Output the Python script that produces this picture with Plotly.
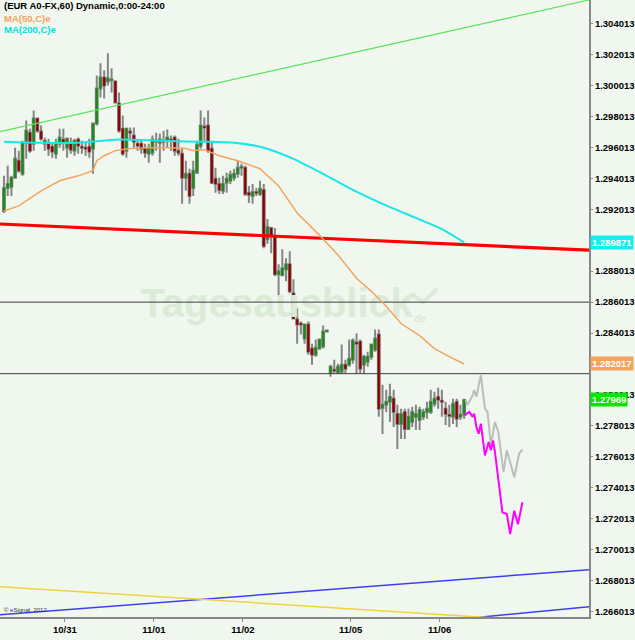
import plotly.graph_objects as go

# ---------------- data (EUR/USD hourly candles) ----------------
open_ = [1.29190, 1.29339, 1.29346, 1.29404, 1.29514, 1.29430, 1.29631, 1.29696, 1.29625, 1.29787,
         1.29703, 1.29625, 1.29625, 1.29605, 1.29560, 1.29625, 1.29651, 1.29599, 1.29625, 1.29579,
         1.29651, 1.29605, 1.29599, 1.29605, 1.29592, 1.29755, 1.29982, 1.30053, 1.30027, 1.30034,
         1.30027, 1.29885, 1.29722, 1.29579, 1.29703, 1.29677, 1.29625, 1.29625, 1.29592, 1.29560,
         1.29566, 1.29638, 1.29631, 1.29644, 1.29644, 1.29651, 1.29664, 1.29579, 1.29560, 1.29404,
         1.29430, 1.29339, 1.29437, 1.29612, 1.29735, 1.29742, 1.29592, 1.29398, 1.29365, 1.29320,
         1.29372, 1.29385, 1.29404, 1.29430, 1.29469, 1.29469, 1.29307, 1.29287, 1.29313, 1.29300,
         1.29326, 1.29008, 1.29080, 1.29028, 1.28781, 1.28775, 1.28814, 1.28846, 1.28658, 1.28489,
         1.28463, 1.28366, 1.28457, 1.28301, 1.28262, 1.28301, 1.28314, 1.28411, 1.28145, 1.28164,
         1.28145, 1.28151, 1.28197, 1.28197, 1.28229, 1.28340, 1.28346, 1.28197, 1.28216, 1.28249,
         1.28294, 1.28392, 1.27918, 1.27938, 1.27957, 1.27977, 1.27879, 1.27814, 1.27892, 1.27782,
         1.27827, 1.27860, 1.27840, 1.27860, 1.27892, 1.27892, 1.27944, 1.27989, 1.27964, 1.27912,
         1.27873, 1.27860, 1.27957, 1.27860, 1.27873]
high = [1.29417, 1.29482, 1.29417, 1.29599, 1.29579, 1.29644, 1.29774, 1.29722, 1.29839, 1.29794,
        1.29742, 1.29664, 1.29657, 1.29631, 1.29657, 1.29722, 1.29722, 1.29664, 1.29664, 1.29657,
        1.29664, 1.29644, 1.29631, 1.29657, 1.29761, 1.30066, 1.30144, 1.30099, 1.30209, 1.30112,
        1.30034, 1.29956, 1.29807, 1.29729, 1.29729, 1.29729, 1.29657, 1.29644, 1.29625, 1.29625,
        1.29677, 1.29696, 1.29690, 1.29709, 1.29716, 1.29677, 1.29677, 1.29657, 1.29599, 1.29514,
        1.29463, 1.29514, 1.29644, 1.29839, 1.29794, 1.29839, 1.29644, 1.29469, 1.29404, 1.29417,
        1.29437, 1.29450, 1.29463, 1.29514, 1.29495, 1.29482, 1.29352, 1.29365, 1.29339, 1.29385,
        1.29365, 1.29138, 1.29086, 1.29080, 1.28846, 1.28943, 1.28885, 1.28930, 1.28749, 1.28561,
        1.28476, 1.28463, 1.28476, 1.28333, 1.28359, 1.28366, 1.28450, 1.28424, 1.28197, 1.28229,
        1.28203, 1.28327, 1.28229, 1.28359, 1.28366, 1.28398, 1.28359, 1.28262, 1.28281, 1.28333,
        1.28424, 1.28424, 1.28067, 1.28035, 1.28074, 1.28035, 1.27938, 1.27912, 1.27912, 1.27912,
        1.27925, 1.27938, 1.27925, 1.27912, 1.27957, 1.28035, 1.28022, 1.28048, 1.28035, 1.27957,
        1.27938, 1.27977, 1.27977, 1.27938, 1.27977]
low = [1.29177, 1.29287, 1.29287, 1.29398, 1.29437, 1.29417, 1.29527, 1.29566, 1.29579, 1.29696,
       1.29644, 1.29579, 1.29547, 1.29534, 1.29527, 1.29599, 1.29579, 1.29534, 1.29560, 1.29547,
       1.29560, 1.29560, 1.29547, 1.29534, 1.29430, 1.29742, 1.29923, 1.29917, 1.30001, 1.29956,
       1.29885, 1.29696, 1.29547, 1.29534, 1.29644, 1.29599, 1.29579, 1.29560, 1.29534, 1.29501,
       1.29547, 1.29579, 1.29501, 1.29579, 1.29599, 1.29579, 1.29547, 1.29547, 1.29236, 1.29320,
       1.29236, 1.29287, 1.29430, 1.29592, 1.29644, 1.29566, 1.29365, 1.29307, 1.29300, 1.29300,
       1.29307, 1.29365, 1.29385, 1.29404, 1.29417, 1.29287, 1.29242, 1.29236, 1.29287, 1.29287,
       1.28950, 1.28976, 1.28917, 1.28768, 1.28638, 1.28768, 1.28736, 1.28658, 1.28489, 1.28333,
       1.28392, 1.28333, 1.28262, 1.28197, 1.28249, 1.28294, 1.28301, 1.28405, 1.28119, 1.28138,
       1.28138, 1.28138, 1.28138, 1.28184, 1.28203, 1.28138, 1.28138, 1.28138, 1.28184, 1.28229,
       1.28281, 1.27860, 1.27749, 1.27892, 1.27827, 1.27795, 1.27652, 1.27717, 1.27717, 1.27775,
       1.27795, 1.27775, 1.27775, 1.27840, 1.27847, 1.27879, 1.27925, 1.27912, 1.27860, 1.27808,
       1.27795, 1.27814, 1.27795, 1.27840, 1.27847]
close = [1.29339, 1.29365, 1.29404, 1.29527, 1.29450, 1.29631, 1.29709, 1.29579, 1.29787, 1.29709,
         1.29657, 1.29644, 1.29592, 1.29573, 1.29625, 1.29664, 1.29638, 1.29657, 1.29586, 1.29644,
         1.29612, 1.29599, 1.29592, 1.29573, 1.29755, 1.29982, 1.30053, 1.30001, 1.30047, 1.30040,
         1.29891, 1.29709, 1.29560, 1.29722, 1.29696, 1.29638, 1.29612, 1.29592, 1.29566, 1.29599,
         1.29651, 1.29644, 1.29651, 1.29638, 1.29664, 1.29644, 1.29579, 1.29566, 1.29404, 1.29430,
         1.29287, 1.29450, 1.29618, 1.29742, 1.29729, 1.29579, 1.29372, 1.29365, 1.29326, 1.29365,
         1.29398, 1.29424, 1.29430, 1.29469, 1.29476, 1.29300, 1.29294, 1.29313, 1.29307, 1.29333,
         1.28963, 1.29086, 1.29028, 1.28781, 1.28801, 1.28820, 1.28846, 1.28671, 1.28496, 1.28457,
         1.28457, 1.28457, 1.28281, 1.28262, 1.28307, 1.28359, 1.28411, 1.28418, 1.28184, 1.28158,
         1.28184, 1.28197, 1.28171, 1.28236, 1.28353, 1.28333, 1.28171, 1.28249, 1.28249, 1.28327,
         1.28366, 1.27912, 1.27938, 1.27957, 1.27989, 1.27892, 1.27814, 1.27879, 1.27782, 1.27860,
         1.27892, 1.27879, 1.27905, 1.27892, 1.27912, 1.27957, 1.27977, 1.27970, 1.27957, 1.27879,
         1.27866, 1.27944, 1.27847, 1.27873, 1.27969]
bar_index = list(range(len(close)))

day_labels = ["10/31", "11/01", "11/02", "11/05", "11/06"]
day_start_bar = [17, 41, 65, 94, 118]

ma50_bar = [0, 4, 10, 15, 20, 23, 24, 25, 27, 30, 34, 39, 45, 49, 51, 54, 58, 63, 69, 74,
            79, 85, 90, 95, 99, 103, 107, 112, 116, 120, 124]
ma50_val = [1.29190, 1.29223, 1.29320, 1.29385, 1.29417, 1.29443, 1.29450, 1.29515, 1.29547, 1.29580,
            1.29593, 1.29599, 1.29599, 1.29593, 1.29580, 1.29586, 1.29547, 1.29515, 1.29463, 1.29352,
            1.29177, 1.29034, 1.28905, 1.28755, 1.28671, 1.28574, 1.28463, 1.28385, 1.28301, 1.28249,
            1.282017]

ma200_bar = [0, 10, 20, 31, 42, 52, 62, 70, 78, 86, 94, 102, 111, 118, 124]
ma200_val = [1.29638, 1.29631, 1.29631, 1.29651, 1.29644, 1.29638, 1.29631, 1.29599, 1.29527, 1.29430,
             1.29326, 1.29236, 1.29145, 1.29073, 1.289871]

proj_gray_bar = [124.4, 124.9, 126.3, 126.7, 127.3, 128.5, 129.6, 130.3, 131.2, 132.3, 133.2, 134.6,
                 135.5, 137.5, 138.8, 139.7]
proj_gray_val = [1.27969, 1.27936, 1.28001, 1.28033, 1.27990, 1.28130, 1.27914, 1.27892, 1.27676,
                 1.27827, 1.27762, 1.27503, 1.27644, 1.27470, 1.27622, 1.27650]

proj_magenta_bar = [124.2, 125.4, 126.3, 126.7, 127.3, 127.9, 128.5, 129.6, 130.6, 131.2, 131.8, 132.3,
                    133.2, 134.3, 135.5, 136.4, 137.5, 138.5, 139.7]
proj_magenta_val = [1.27871, 1.27892, 1.27860, 1.27881, 1.27795, 1.27751, 1.27816, 1.27611, 1.27697,
                    1.27644, 1.27708, 1.27632, 1.27459, 1.27243, 1.27232, 1.27102, 1.27254, 1.27167,
                    1.27308]

# drawn trend lines (two anchor points each: bar, price)
green_trend = [(-1.07, 1.29703), (157.64, 1.30553)]
red_trend = [(-1.07, 1.29106), (157.64, 1.28937)]
blue_upper = [(-1.07, 1.26581), (157.64, 1.26873)]
blue_lower = [(120.9, 1.26549), (157.64, 1.26633)]
yellow_trend = [(-1.07, 1.26763), (139.9, 1.26549)]
levels = [1.286013, 1.28139]

# right-axis labels (1.282013 and 1.290013 sit under the value boxes in the original)
ytick_labels = ["1.266013", "1.268013", "1.270013", "1.272013", "1.274013", "1.276013", "1.278013",
                "1.280013", "1.284013", "1.286013", "1.288013", "1.292013",
                "1.294013", "1.296013", "1.298013", "1.300013", "1.302013", "1.304013"]

X_RANGE = [-1.07, 157.64]
Y_RANGE = [1.26567, 1.30553]
BG = "#EFF7EF"
FONT = "Liberation Sans, Arial, sans-serif"

fig = go.Figure()

# watermark
fig.add_trace(go.Scatter(x=[73.5], y=[1.2857], mode="text", text=["Tagesausblick"],
                         textfont=dict(size=40, color="#DCEBD7", family=FONT, weight="bold"),
                         hoverinfo="skip", showlegend=False))
fig.add_trace(go.Scatter(x=[111.8], y=[1.28489], mode="text", text=[".de"],
                         textfont=dict(size=10, color="#D6E6D0", family=FONT),
                         hoverinfo="skip", showlegend=False))
fig.add_trace(go.Scatter(x=[107.5, 110.2, 112.9, 116.9], y=[1.28590, 1.28650, 1.28600, 1.28690],
                         mode="lines", line=dict(color="#DCEBD7", width=4),
                         hoverinfo="skip", showlegend=False))

# candles: wick/outline layer, then body layer
fig.add_trace(go.Candlestick(x=bar_index, open=open_, high=high, low=low, close=close,
                             increasing=dict(line=dict(color="#858585", width=2), fillcolor="#858585"),
                             decreasing=dict(line=dict(color="#858585", width=2), fillcolor="#858585"),
                             whiskerwidth=0, showlegend=False, hoverinfo="skip"))
body_hi = [max(o, c) for o, c in zip(open_, close)]
body_lo = [min(o, c) for o, c in zip(open_, close)]
fig.add_trace(go.Candlestick(x=bar_index, open=open_, high=body_hi, low=body_lo, close=close,
                             increasing=dict(line=dict(color="#1a8a1a", width=0.5), fillcolor="#1a8a1a"),
                             decreasing=dict(line=dict(color="#8b0000", width=0.5), fillcolor="#8b0000"),
                             whiskerwidth=0, showlegend=False, hoverinfo="skip"))

def seg(pts, color, width):
    fig.add_trace(go.Scatter(x=[p[0] for p in pts], y=[p[1] for p in pts], mode="lines",
                             line=dict(color=color, width=width), hoverinfo="skip", showlegend=False))

seg(green_trend, "#5BE35B", 1.2)
seg(red_trend, "#FF0000", 3.2)
seg(blue_upper, "#3F3FF0", 1.5)
seg(blue_lower, "#3F3FF0", 1.5)
seg(yellow_trend, "#F2D23C", 1.5)
for lv in levels:
    seg([(X_RANGE[0], lv), (X_RANGE[1], lv)], "#3c3c3c", 1)

fig.add_trace(go.Scatter(x=ma200_bar, y=ma200_val, mode="lines", line=dict(color="#19E6E6", width=2, shape="spline", smoothing=0.6),
                         hoverinfo="skip", showlegend=False))
fig.add_trace(go.Scatter(x=ma50_bar, y=ma50_val, mode="lines", line=dict(color="#F4A460", width=1.5),
                         hoverinfo="skip", showlegend=False))
fig.add_trace(go.Scatter(x=proj_gray_bar, y=proj_gray_val, mode="lines", line=dict(color="#BDBDBD", width=2),
                         hoverinfo="skip", showlegend=False))
fig.add_trace(go.Scatter(x=proj_magenta_bar, y=proj_magenta_val, mode="lines",
                         line=dict(color="#FF00FF", width=2), hoverinfo="skip", showlegend=False))

PLOT_H = 617.0
ann = []
def top_text(text, py, color):
    ann.append(dict(text=text, xref="paper", yref="paper", x=0.003, y=1 - py / PLOT_H,
                    xanchor="left", yanchor="middle", showarrow=False,
                    font=dict(size=9.5, color=color, family=FONT, weight="bold")))
top_text("(EUR A0-FX,60) Dynamic,0:00-24:00", 6, "#000000")
top_text("MA(50,C)e", 18, "#F4A460")
top_text("MA(200,C)e", 30, "#00E0E0")

def price_box(text, yval, bg):
    ann.append(dict(text=text, xref="paper", yref="y", x=1, y=yval, xanchor="left", yanchor="middle",
                    xshift=1, showarrow=False, bgcolor=bg, borderpad=1,
                    font=dict(size=9.5, color="#FFFFFF", family=FONT, weight="bold")))
price_box("1.289871", ma200_val[-1], "#14EEEE")
price_box("1.282017", ma50_val[-1], "#F4A460")
price_box("1.27969", close[-1], "#00E800")

ann.append(dict(text="© eSignal, 2012", xref="paper", yref="paper", x=0.003, y=1 - 610 / PLOT_H,
                xanchor="left", yanchor="middle", showarrow=False,
                font=dict(size=6, color="#333333", family=FONT)))

tick_pos = [d - 0.6 for d in day_start_bar]

fig.update_layout(
    width=635, height=640,
    margin=dict(l=0, r=43, t=0, b=23),
    paper_bgcolor=BG, plot_bgcolor=BG,
    showlegend=False,
    boxgap=0.3,
    annotations=ann,
    xaxis=dict(range=X_RANGE, showgrid=False, zeroline=False, rangeslider=dict(visible=False),
               tickmode="array", tickvals=tick_pos, ticktext=day_labels,
               ticks="outside", ticklen=3, tickcolor="#888888",
               showline=True, linecolor="#888888", linewidth=2,
               tickfont=dict(size=9.5, color="#000000", family=FONT, weight="bold")),
    yaxis=dict(range=Y_RANGE, side="right", showgrid=False, zeroline=False,
               tickmode="array", tickvals=[float(s) for s in ytick_labels], ticktext=ytick_labels,
               ticks="outside", ticklen=2, tickcolor="#888888",
               showline=True, linecolor="#888888", linewidth=2,
               tickfont=dict(size=9.5, color="#000000", family=FONT, weight="bold")),
)

fig.write_html("out.html", config={"displayModeBar": False},
               post_script="document.body.style.margin='0';document.body.style.padding='0';"
                           "document.body.style.background='" + BG + "';")
